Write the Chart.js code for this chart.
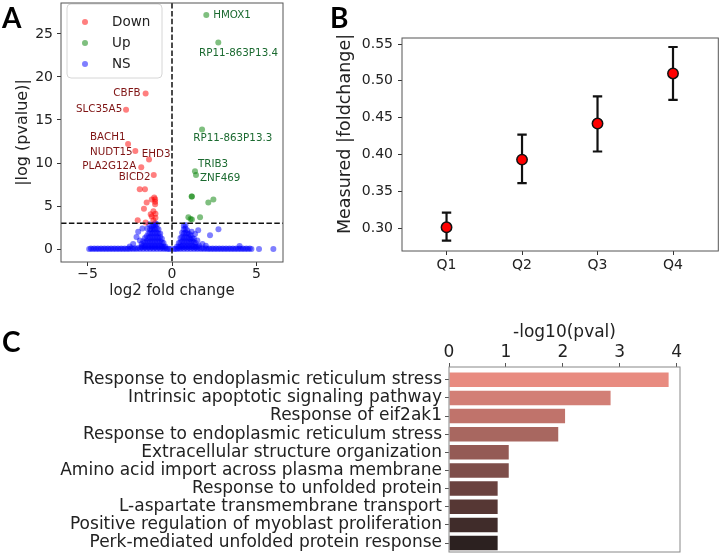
<!DOCTYPE html>
<html>
<head>
<meta charset="utf-8">
<script src="https://cdn.jsdelivr.net/npm/chart.js@4.4.1/dist/chart.umd.min.js"></script>
<style>
body { margin: 0; background: #fff; }
#page { position: relative; width: 725px; height: 558px; overflow: hidden; }
.box { position: absolute; }
.tag { position: absolute; font-family: Lato, 'Open Sans', sans-serif; font-weight: bold; font-size: 28px; line-height: 1; color: #000; }
</style>
</head>
<body>
<div id="page">
  <div class="box" style="left:0;top:0;width:300px;height:300px"><canvas id="volcano"></canvas></div>
  <div class="box" style="left:330px;top:0;width:395px;height:300px"><canvas id="quartiles"></canvas></div>
  <div class="box" style="left:0;top:310px;width:725px;height:248px"><canvas id="terms"></canvas></div>
  <div class="tag" style="left:2px;top:3px">A</div>
  <div class="tag" style="left:330px;top:3px">B</div>
  <div class="tag" style="left:2px;top:327px">C</div>
</div>
<script>
// ---- panel A: volcano ----
const downPoints = [
  [-1.56,18.07],[-2.72,16.2],[-2.6,12.2],[-2.17,11.4],[-1.36,10.4],[-1.82,9.5],[-1.08,8.6],
  [-1.91,6.94],[-1.6,6.94],[-1.5,5.4],[-1.2,5.75],[-1.05,6.0],[-1.0,5.8],[-1.0,5.5],[-1.0,5.2],
  [-1.66,4.7],[-1.1,4.4],[-0.98,4.1],[-1.26,4.05],[-1.2,3.8],[-2.03,3.35],[-1.56,3.1],[-1.1,3.35],[-0.98,3.65]
];
const upPoints = [
  [2.03,27.2],[2.74,24.0],[1.78,13.9],[1.36,9.05],[1.42,8.6],[1.16,6.1],[1.18,6.12],
  [2.45,5.75],[2.15,5.4],[0.97,3.7],[1.1,3.5],[1.18,3.45],[1.66,3.7]
];
const nsPoints = [
  [-4.9,0],[-4.7,0],[-4.5,0],[-4.3,0],[-4.1,0],[-3.9,0],[-3.7,0],[-3.5,0],[-3.3,0],[-3.1,0],
  [-2.9,0],[-2.7,0],[-2.5,0],[-2.3,0],[-2.1,0],[-1.9,0],[-1.7,0],[-1.5,0],[-1.3,0],[-1.1,0],
  [-0.9,0],[-0.7,0],[-0.5,0],[-0.3,0],[-0.1,0],[0.1,0],[0.3,0],[0.5,0],[0.7,0],[0.9,0],
  [1.1,0],[1.3,0],[1.5,0],[1.7,0],[1.9,0],[2.1,0],[2.3,0],[2.5,0],[2.7,0],[2.9,0],
  [3.1,0],[3.3,0],[3.5,0],[3.7,0],[3.9,0],[4.1,0],[4.3,0],[4.5,0],[4.7,0],
  [-4.8,0.08],[-4.6,0.08],[-4.4,0.08],[-4.2,0.08],[-4.0,0.08],[-3.8,0.08],[-3.6,0.08],[-3.4,0.08],
  [-3.2,0.08],[-3.0,0.08],[-2.8,0.08],[-2.6,0.08],[-2.4,0.1],[-2.2,0.1],[-2.0,0.12],[-1.8,0.15],
  [-1.6,0.15],[-1.4,0.15],[-1.2,0.15],[-1.0,0.15],[-0.8,0.15],[-0.6,0.12],[-0.4,0.1],[-0.2,0.05],
  [0.2,0.05],[0.4,0.1],[0.6,0.15],[0.8,0.15],[1.0,0.15],[1.2,0.15],[1.4,0.12],[1.6,0.12],
  [1.8,0.1],[2.0,0.1],[2.2,0.08],[2.4,0.08],[2.6,0.08],[2.8,0.08],[3.0,0.08],[3.2,0.08],
  [3.4,0.08],[3.6,0.08],[3.8,0.08],[4.0,0.08],[4.2,0.08],[4.4,0.08],[4.6,0.08],
  [-1.8,0.3],[-1.8,0.6],[-1.7,0.4],[-1.7,0.9],[-1.6,0.3],[-1.6,0.8],[-1.6,1.3],
  [-1.5,0.4],[-1.5,0.9],[-1.5,1.5],[-1.4,0.3],[-1.4,0.8],[-1.4,1.3],[-1.4,1.8],
  [-1.3,0.4],[-1.3,0.9],[-1.3,1.4],[-1.3,1.9],[-1.3,2.3],
  [-1.2,0.3],[-1.2,0.8],[-1.2,1.3],[-1.2,1.8],[-1.2,2.3],[-1.2,2.6],
  [-1.1,0.4],[-1.1,0.9],[-1.1,1.4],[-1.1,1.9],[-1.1,2.4],[-1.1,2.8],
  [-1.0,0.3],[-1.0,0.8],[-1.0,1.3],[-1.0,1.8],[-1.0,2.3],[-1.0,2.8],[-1.0,3.0],
  [-0.9,0.4],[-0.9,0.9],[-0.9,1.4],[-0.9,1.9],[-0.9,2.4],[-0.9,2.9],
  [-0.8,0.3],[-0.8,0.8],[-0.8,1.3],[-0.8,1.8],[-0.8,2.3],
  [-0.7,0.4],[-0.7,0.9],[-0.7,1.4],[-0.7,1.8],[-0.6,0.3],[-0.6,0.8],[-0.6,1.2],
  [-0.5,0.3],[-0.5,0.7],[-0.4,0.3],
  [-2.1,1.4],[-2.0,2.0],[-1.75,2.4],[-1.46,2.4],[-1.35,2.9],[-2.3,0.6],[-2.5,0.3],[-1.9,1.0],
  [0.3,0.3],[0.4,0.3],[0.4,0.7],[0.5,0.3],[0.5,0.8],[0.5,1.3],
  [0.6,0.4],[0.6,0.9],[0.6,1.4],[0.6,1.9],
  [0.7,0.3],[0.7,0.8],[0.7,1.3],[0.7,1.8],[0.7,2.3],[0.7,2.7],
  [0.8,0.4],[0.8,0.9],[0.8,1.4],[0.8,1.9],[0.8,2.4],[0.8,2.8],
  [0.9,0.3],[0.9,0.8],[0.9,1.3],[0.9,1.8],[0.9,2.2],
  [1.0,0.4],[1.0,0.9],[1.0,1.4],[1.0,1.8],[1.1,0.3],[1.1,0.8],[1.1,1.2],[1.1,1.6],
  [1.2,0.4],[1.2,0.9],[1.2,1.3],[1.3,0.3],[1.3,0.8],[1.3,1.2],[1.4,0.3],[1.4,0.7],
  [1.5,0.3],[1.5,1.0],[1.6,0.4],
  [1.55,2.2],[1.36,1.75],[1.16,2.0],[2.25,1.6],[2.75,2.3],[1.8,0.6],[2.0,0.4],[4.0,0.35],[5.15,0],[6.0,0]
];
const pThreshold = 3;
const downNames = ['CBFB','SLC35A5','BACH1','NUDT15','EHD3','PLA2G12A','BICD2'];
const downTextX = [-3.47,-5.68,-4.85,-4.85,-1.79,-5.31,-3.15];
const downTextY = [18.15,16.2,12.95,11.2,11.0,9.6,8.33];
const upNames = ['HMOX1','RP11-863P13.4','RP11-863P13.3','TRIB3','ZNF469'];
const upTextX = [2.44,1.6,1.26,1.54,1.66];
const upTextY = [27.2,22.8,12.85,9.83,8.2];
const volcanoXTicks = [-5,0,5];
const volcanoYTicks = [0,5,10,15,20,25];

// ---- panel B: quartiles ----
const quartiles = ['Q1','Q2','Q3','Q4'];
const qMeans = [0.301,0.393,0.442,0.510];
const qLow = [0.283,0.361,0.404,0.474];
const qHigh = [0.321,0.427,0.479,0.546];
const qYTicks = [0.30,0.35,0.40,0.45,0.50,0.55];

// ---- panel C: enrichment ----
const termNames = [
  'Response to endoplasmic reticulum stress',
  'Intrinsic apoptotic signaling pathway',
  'Response of eif2ak1',
  'Response to endoplasmic reticulum stress',
  'Extracellular structure organization',
  'Amino acid import across plasma membrane',
  'Response to unfolded protein',
  'L-aspartate transmembrane transport',
  'Positive regulation of myoblast proliferation',
  'Perk-mediated unfolded protein response'
];
const termValues = [3.86,2.84,2.04,1.92,1.05,1.05,0.855,0.855,0.855,0.855];
const termXTicks = [0,1,2,3,4];

const termColors = ['#e88b80','#d27f76','#c0736b','#a86760','#945a55','#7e4e4a','#6a423f','#563734','#402c2a','#2c2120'];

Chart.defaults.font.family = "'DejaVu Sans', sans-serif";
Chart.defaults.color = '#222';
Chart.defaults.animation = false;

const fixTicks = vals => scale => { scale.ticks = vals.map(v => ({ value: v })); };
const toXY = pts => pts.map(p => ({ x: p[0], y: p[1] }));
// force a scale's box size and drop the label overhang padding
const fitTo = (dim, size) => s => {
  s[dim] = size;
  s.paddingTop = 0; s.paddingBottom = 0; s.paddingLeft = 0; s.paddingRight = 0;
};

const frame = {
  id: 'frame',
  afterDraw(chart, args, opts) {
    const { ctx, chartArea: a } = chart;
    ctx.save();
    ctx.strokeStyle = opts.color || '#555';
    ctx.lineWidth = 1;
    ctx.strokeRect(a.left, a.top, a.right - a.left, a.bottom - a.top);
    ctx.restore();
  }
};

const volcanoExtras = {
  id: 'volcanoExtras',
  afterDatasetsDraw(chart) {
    const { ctx, chartArea: a, scales: { x, y } } = chart;
    ctx.save();
    ctx.strokeStyle = '#111';
    ctx.lineWidth = 1.5;
    ctx.setLineDash([5.5, 2.4]);
    ctx.beginPath();
    const px = x.getPixelForValue(0), py = y.getPixelForValue(pThreshold);
    ctx.moveTo(px, a.top); ctx.lineTo(px, a.bottom);
    ctx.moveTo(a.left, py); ctx.lineTo(a.right, py);
    ctx.stroke();
    ctx.setLineDash([]);

    ctx.font = "10.3px 'DejaVu Sans'";
    ctx.textAlign = 'left';
    ctx.textBaseline = 'middle';
    ctx.fillStyle = '#7f1414';
    downNames.forEach((n, i) => ctx.fillText(n, x.getPixelForValue(downTextX[i]), y.getPixelForValue(downTextY[i])));
    ctx.fillStyle = '#1b6a30';
    upNames.forEach((n, i) => ctx.fillText(n, x.getPixelForValue(upTextX[i]), y.getPixelForValue(upTextY[i])));

    // legend box
    const lx = a.left + 6, ly = a.top + 1;
    ctx.beginPath();
    ctx.roundRect(lx, ly, 95, 74, 4);
    ctx.fillStyle = 'rgba(255,255,255,0.85)';
    ctx.fill();
    ctx.strokeStyle = '#d6d6d6';
    ctx.lineWidth = 1;
    ctx.stroke();
    ctx.font = "13.5px 'DejaVu Sans'";
    chart.data.datasets.forEach((ds, i) => {
      const cy = ly + 18 + i * 21;
      ctx.beginPath();
      ctx.arc(lx + 18, cy, 3, 0, Math.PI * 2);
      ctx.fillStyle = ds.backgroundColor;
      ctx.fill();
      ctx.fillStyle = '#222';
      ctx.fillText(ds.label, lx + 45, cy);
    });
    ctx.restore();
  }
};

new Chart(document.getElementById('volcano'), {
  type: 'scatter',
  data: {
    datasets: [
      { label: 'Down', data: toXY(downPoints), backgroundColor: 'rgba(255,0,0,0.5)' },
      { label: 'Up', data: toXY(upPoints), backgroundColor: 'rgba(0,128,0,0.5)' },
      { label: 'NS', data: toXY(nsPoints), backgroundColor: 'rgba(0,0,255,0.5)' }
    ]
  },
  options: {
    responsive: true,
    maintainAspectRatio: false,
    elements: { point: { radius: 3, hoverRadius: 3, borderWidth: 0 } },
    layout: { padding: { top: 2, right: 17, left: 0, bottom: 0 } },
    plugins: { legend: { display: false }, tooltip: { enabled: false }, frame: { color: '#555' } },
    scales: {
      x: {
        type: 'linear', min: -6.57, max: 6.57,
        afterBuildTicks: fixTicks(volcanoXTicks),
        afterFit: fitTo('height', 38),
        grid: { drawOnChartArea: false, tickLength: 4, color: '#333' },
        border: { display: false },
        ticks: { font: { size: 14 }, padding: 0, callback: v => v < 0 ? '\u2212' + Math.abs(v) : String(v) },
        title: { display: true, text: 'log2 fold change', font: { size: 15 }, padding: { top: 0, bottom: 0 } }
      },
      y: {
        type: 'linear', min: -1.5, max: 28.59,
        afterBuildTicks: fixTicks(volcanoYTicks),
        afterFit: fitTo('width', 61),
        grid: { drawOnChartArea: false, tickLength: 4, color: '#333' },
        border: { display: false },
        ticks: { font: { size: 14 }, padding: 4 },
        title: { display: true, text: '|log (pvalue)|', font: { size: 16 }, padding: { top: 13, bottom: 0 } }
      }
    }
  },
  plugins: [frame, volcanoExtras]
});

const errorBars = {
  id: 'errorBars',
  beforeDatasetsDraw(chart) {
    const { ctx, scales: { x, y } } = chart;
    ctx.save();
    ctx.strokeStyle = '#111';
    ctx.lineWidth = 2.2;
    ctx.beginPath();
    qMeans.forEach((m, i) => {
      const px = x.getPixelForValue(i), lo = y.getPixelForValue(qLow[i]), hi = y.getPixelForValue(qHigh[i]);
      ctx.moveTo(px, lo); ctx.lineTo(px, hi);
      ctx.moveTo(px - 4.7, lo); ctx.lineTo(px + 4.7, lo);
      ctx.moveTo(px - 4.7, hi); ctx.lineTo(px + 4.7, hi);
    });
    ctx.stroke();
    ctx.restore();
  },
  afterDraw(chart) {
    const { ctx } = chart;
    ctx.save();
    ctx.translate(15, 134);
    ctx.rotate(-Math.PI / 2);
    ctx.font = "17.5px 'DejaVu Sans'";
    ctx.fillStyle = '#222';
    ctx.textAlign = 'center';
    ctx.textBaseline = 'middle';
    ctx.fillText('Measured |foldchange|', 0, 0);
    ctx.restore();
  }
};

new Chart(document.getElementById('quartiles'), {
  type: 'scatter',
  data: {
    datasets: [{
      label: 'foldchange',
      data: qMeans.map((m, i) => ({ x: i, y: m })),
      backgroundColor: '#ff0000',
      borderColor: '#111',
      borderWidth: 1.5,
      pointRadius: 5.2,
      hoverRadius: 5.2
    }]
  },
  options: {
    responsive: true,
    maintainAspectRatio: false,
    layout: { padding: { top: 38, right: 3, left: 0, bottom: 0 } },
    plugins: { legend: { display: false }, tooltip: { enabled: false }, frame: { color: '#555' } },
    scales: {
      x: {
        type: 'linear', min: -0.59, max: 3.6,
        afterBuildTicks: fixTicks([0, 1, 2, 3]),
        afterFit: fitTo('height', 49),
        grid: { drawOnChartArea: false, tickLength: 4, color: '#333' },
        border: { display: false },
        ticks: { font: { size: 14 }, padding: 2, callback: v => quartiles[v] }
      },
      y: {
        type: 'linear', min: 0.2688, max: 0.5582,
        afterBuildTicks: fixTicks(qYTicks),
        afterFit: fitTo('width', 72),
        grid: { drawOnChartArea: false, tickLength: 4, color: '#333' },
        border: { display: false },
        ticks: { font: { size: 14 }, padding: 5, callback: v => v.toFixed(2) }
      }
    }
  },
  plugins: [frame, errorBars]
});

new Chart(document.getElementById('terms'), {
  type: 'bar',
  data: {
    datasets: [{
      label: '-log10(pval)',
      data: termValues.map((v, i) => ({ x: v, y: i })),
      backgroundColor: termColors,
      borderWidth: 0,
      barPercentage: 0.8,
      categoryPercentage: 1
    }]
  },
  options: {
    indexAxis: 'y',
    responsive: true,
    maintainAspectRatio: false,
    layout: { padding: { top: 0, right: 45, left: 0, bottom: 6 } },
    plugins: { legend: { display: false }, tooltip: { enabled: false }, frame: { color: '#888' } },
    scales: {
      x: {
        type: 'linear', position: 'top', min: 0, max: 4.06,
        afterBuildTicks: fixTicks(termXTicks),
        afterFit: fitTo('height', 57),
        grid: { drawOnChartArea: false, tickLength: 4, color: '#555' },
        border: { display: false },
        ticks: { font: { size: 17 }, padding: 0, maxRotation: 0 },
        title: { display: true, text: '-log10(pval)', font: { size: 17 }, padding: { top: 12, bottom: 0 } }
      },
      y: {
        type: 'linear', reverse: true, offset: false, min: -0.704, max: 9.495,
        afterBuildTicks: fixTicks(termNames.map((n, i) => i)),
        afterFit: fitTo('width', 449),
        grid: { drawOnChartArea: false, offset: false, tickLength: 4, color: '#555' },
        border: { display: false },
        ticks: { font: { size: 17, lineHeight: 1 }, padding: 3, autoSkip: false, callback: v => termNames[v] }
      }
    }
  },
  plugins: [frame]
});
</script>
</body>
</html>
